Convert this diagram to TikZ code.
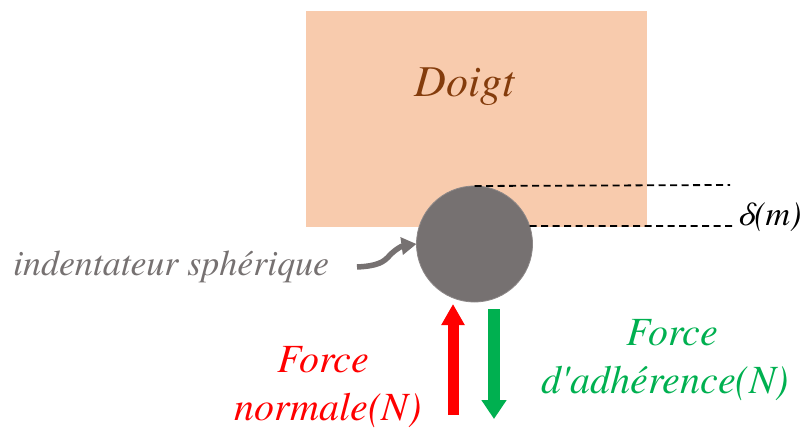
\documentclass[tikz,border=0pt]{standalone}
\usepackage{fontspec}
\setmainfont{texgyretermes}[Extension=.otf, UprightFont=*-regular, ItalicFont=*-italic, BoldFont=*-bold, BoldItalicFont=*-bolditalic]
\newfontfamily\termesplain{texgyretermes}[Extension=.otf, UprightFont=*-regular, ItalicFont=*-italic]
\usetikzlibrary{arrows.meta}
\definecolor{peach}{HTML}{F8CBAD}
\definecolor{brownt}{HTML}{843C0C}
\definecolor{greyball}{HTML}{767171}
\definecolor{greyedge}{HTML}{8C8787}
\definecolor{gforce}{HTML}{00B050}
\definecolor{rforce}{HTML}{FF0000}
\tikzset{
  lbl/.style={inner sep=0pt, outer sep=0pt, anchor=base},
  dline/.style={black, line width=1.8pt, dash pattern=on 7pt off 4.5pt},
}
\begin{document}
\begin{tikzpicture}[x=1pt,y=-1pt]
\useasboundingbox (0,0) rectangle (807,428);
% finger
\fill[peach] (306,11) rectangle (647,227);
\node[lbl, text=brownt, font=\itshape\fontsize{44}{50}\selectfont] (doigt) at (465,97) {Doigt};
% indenter
\node[circle, fill=greyball, draw=greyedge, line width=0.8pt, minimum size=116pt, inner sep=0pt, outer sep=0pt] (ind) at (474.5,244) {};
% dashed lines
\coordinate (d1) at (730,185);
\coordinate (d2) at (732,226);
\draw[dline] (ind.north) -- (d1);
\draw[dline] (ind.18) -- (d2);
\node[lbl, anchor=base west, font=\itshape\fontsize{34}{40}\selectfont] (delta) at (737,225) {δ(m)};
% label indentateur
\node[lbl, anchor=base west, text=greyball, font=\itshape\fontsize{36}{42}\selectfont] (indl) at (13,275) {indentateur sphérique};
\coordinate (tail) at (357,267);
\draw[greyball, line width=5.5pt, -{Triangle[width=17pt,length=15pt]}] (tail) .. controls (378,266) and (384,262) .. (390,255) .. controls (396,249) and (402,246) .. (ind.west);
% forces
\coordinate (rb) at (453,415);
\coordinate (rt) at (453,304);
\draw[rforce, line width=11pt, -{Triangle[width=22pt,length=21pt]}] (rb) -- (rt);
\coordinate (gt) at (494,309);
\coordinate (gb) at (494,419);
\draw[gforce, line width=12pt, -{Triangle[width=24pt,length=19pt]}] (gt) -- (gb);
\node[lbl, text=rforce, font=\itshape\fontsize{40}{48}\selectfont] (rf1) at (323.5,372) {Force};
\node[lbl, text=rforce, font=\itshape\fontsize{40}{48}\selectfont] (rf2) at (328,420) {normale(N)};
\node[lbl, text=gforce, font=\itshape\fontsize{40}{48}\selectfont] (gf1) at (672.5,345) {Force};
\node[lbl, text=gforce, font=\termesplain\itshape\fontsize{40}{48}\selectfont] (gf2) at (665.5,393) {d'adhérence(N)};
\end{tikzpicture}
\end{document}
